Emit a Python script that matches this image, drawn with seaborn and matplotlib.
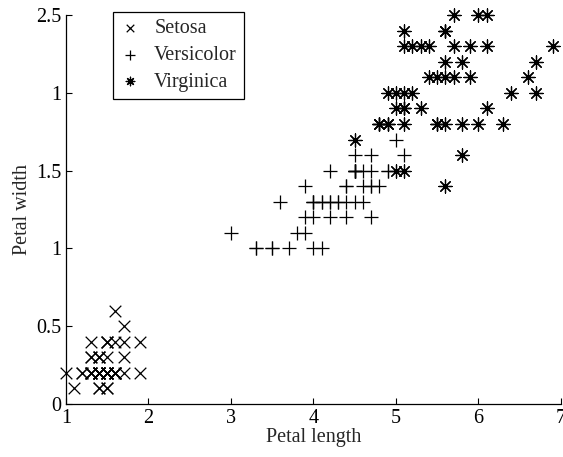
import matplotlib
matplotlib.use("Agg")
import matplotlib.pyplot as plt
import pandas as pd
import seaborn as sns

setosa_length = [1.4, 1.4, 1.3, 1.5, 1.4, 1.7, 1.4, 1.5, 1.4, 1.5, 1.5, 1.6, 1.4, 1.1, 1.2, 1.5, 1.3,
                 1.4, 1.7, 1.5, 1.7, 1.5, 1.0, 1.7, 1.9, 1.6, 1.6, 1.5, 1.4, 1.6, 1.6, 1.5, 1.5, 1.4,
                 1.5, 1.2, 1.3, 1.4, 1.3, 1.5, 1.3, 1.3, 1.3, 1.6, 1.9, 1.4, 1.6, 1.4, 1.5, 1.4]
setosa_width = [0.2, 0.2, 0.2, 0.2, 0.2, 0.4, 0.3, 0.2, 0.2, 0.1, 0.2, 0.2, 0.1, 0.1, 0.2, 0.4, 0.4,
                0.3, 0.3, 0.3, 0.2, 0.4, 0.2, 0.5, 0.2, 0.2, 0.4, 0.2, 0.2, 0.2, 0.2, 0.4, 0.1, 0.2,
                0.2, 0.2, 0.2, 0.1, 0.2, 0.2, 0.3, 0.3, 0.2, 0.6, 0.4, 0.3, 0.2, 0.2, 0.2, 0.2]
versicolor_length = [4.7, 4.5, 4.9, 4.0, 4.6, 4.5, 4.7, 3.3, 4.6, 3.9, 3.5, 4.2, 4.0, 4.7, 3.6, 4.4,
                     4.5, 4.1, 4.5, 3.9, 4.8, 4.0, 4.9, 4.7, 4.3, 4.4, 4.8, 5.0, 4.5, 3.5, 3.8, 3.7,
                     3.9, 5.1, 4.5, 4.5, 4.7, 4.4, 4.1, 4.0, 4.4, 4.6, 4.0, 3.3, 4.2, 4.2, 4.2, 4.3,
                     3.0, 4.1]
versicolor_width = [1.4, 1.5, 1.5, 1.3, 1.5, 1.3, 1.6, 1.0, 1.3, 1.4, 1.0, 1.5, 1.0, 1.4, 1.3, 1.4,
                    1.5, 1.0, 1.5, 1.1, 1.8, 1.3, 1.5, 1.2, 1.3, 1.4, 1.4, 1.7, 1.5, 1.0, 1.1, 1.0,
                    1.2, 1.6, 1.5, 1.6, 1.5, 1.3, 1.3, 1.3, 1.2, 1.4, 1.2, 1.0, 1.3, 1.2, 1.3, 1.3,
                    1.1, 1.3]
virginica_length = [6.0, 5.1, 5.9, 5.6, 5.8, 6.6, 4.5, 6.3, 5.8, 6.1, 5.1, 5.3, 5.5, 5.0, 5.1, 5.3,
                    5.5, 6.7, 6.9, 5.0, 5.7, 4.9, 6.7, 4.9, 5.7, 6.0, 4.8, 4.9, 5.6, 5.8, 6.1, 6.4,
                    5.6, 5.1, 5.6, 6.1, 5.6, 5.5, 4.8, 5.4, 5.6, 5.1, 5.1, 5.9, 5.7, 5.2, 5.0, 5.2,
                    5.4, 5.1]
virginica_width = [2.5, 1.9, 2.1, 1.8, 2.2, 2.1, 1.7, 1.8, 1.8, 2.5, 2.0, 1.9, 2.1, 2.0, 2.4, 2.3,
                   1.8, 2.2, 2.3, 1.5, 2.3, 2.0, 2.0, 1.8, 2.1, 1.8, 1.8, 1.8, 2.1, 1.6, 1.9, 2.0,
                   2.2, 1.5, 1.4, 2.3, 2.4, 1.8, 1.8, 2.1, 2.4, 2.3, 1.9, 2.3, 2.5, 2.3, 1.9, 2.0,
                   2.3, 1.8]

species = ["Setosa", "Versicolor", "Virginica"]
x_ticks = [1, 2, 3, 4, 5, 6, 7]
y_ticks = [0, 0.5, 1, 1.5, 2, 2.5]
y_tick_labels = ["0", "0.5", "1", "1.5", "1", "2.5"]

df = pd.concat([
    pd.DataFrame({"length": setosa_length, "width": setosa_width, "species": species[0]}),
    pd.DataFrame({"length": versicolor_length, "width": versicolor_width, "species": species[1]}),
    pd.DataFrame({"length": virginica_length, "width": virginica_width, "species": species[2]}),
], ignore_index=True)

sns.set_style("ticks")
plt.rcParams["font.family"] = ["Liberation Serif", "DejaVu Serif"]
plt.rcParams["xtick.direction"] = "in"
plt.rcParams["ytick.direction"] = "in"

fig = plt.figure(figsize=(5.63, 4.57), dpi=100)
ax = fig.add_axes([0.117, 0.116, 0.879, 0.851])

markers = {"Setosa": "x", "Versicolor": "+", "Virginica": (8, 2, 0)}
sizes = {"Setosa": 70, "Versicolor": 110, "Virginica": 90}
for sp in species:
    sns.scatterplot(data=df[df.species == sp], x="length", y="width", marker=markers[sp],
                    s=sizes[sp], color="black", linewidth=0.9, label=sp, ax=ax,
                    clip_on=False, zorder=3)

ax.set_xlim(1, 7)
ax.set_ylim(0, 2.5)
ax.set_xticks(x_ticks)
ax.set_yticks(y_ticks)
ax.set_yticklabels(y_tick_labels)
ax.tick_params(labelsize=14.5, length=4, width=0.8, color="black", labelcolor="black")
ax.set_xlabel("Petal length", fontsize=14.5, labelpad=0)
ax.set_ylabel("Petal width", fontsize=14.5, labelpad=3)
sns.despine(ax=ax)
for side in ["left", "bottom"]:
    ax.spines[side].set_color("black")
    ax.spines[side].set_linewidth(0.9)

leg = ax.legend(loc="upper left", bbox_to_anchor=(0.095, 1.008), borderaxespad=0,
                fontsize=14.5, frameon=True, fancybox=False, edgecolor="black", framealpha=1,
                borderpad=0.35, handletextpad=0.7, labelspacing=0.38, markerscale=0.65,
                handlelength=1.0)
leg.get_frame().set_linewidth(0.9)

fig.savefig("out.png", dpi=100)
